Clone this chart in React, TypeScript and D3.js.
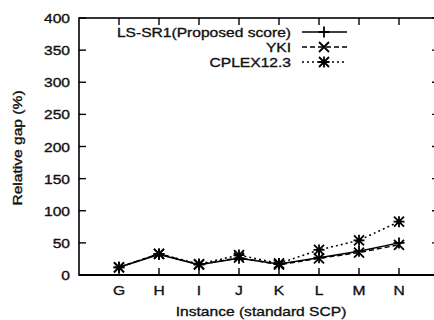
import React from 'react'
import * as d3 from 'd3'

const categories = ['G', 'H', 'I', 'J', 'K', 'L', 'M', 'N']
const lsSr1 = [12, 32, 16, 26, 17, 27, 37, 50]
const yki = [12, 33, 16, 27, 16, 26, 35, 47]
const cplex = [12, 33, 17, 31, 18, 39, 54, 83]
const yTicks = [0, 50, 100, 150, 200, 250, 300, 350, 400]

const seriesList = [
    { name: 'LS-SR1(Proposed score)', values: lsSr1, dash: 'none', marker: 'plus' },
    { name: 'YKI', values: yki, dash: '5,3', marker: 'cross' },
    { name: 'CPLEX12.3', values: cplex, dash: '2,3', marker: 'star' },
]

const W = 434
const H = 320
const left = 79
const right = 439
const top = 18
const bottom = 275
const font = '"Liberation Sans", Arial, Helvetica, sans-serif'
const sx = 1.2 // scanned text is wider than plain Arial

function Marker({ type, x, y }: { type: string; x: number; y: number }) {
    const p = 5.5
    const c = 5
    const plus = `M${x - p},${y}H${x + p}M${x},${y - p}V${y + p}`
    const cross = `M${x - c},${y - c}L${x + c},${y + c}M${x - c},${y + c}L${x + c},${y - c}`
    const d = type === 'plus' ? plus : type === 'cross' ? cross : plus + cross
    return <path d={d} stroke="#000" strokeWidth={1.8} fill="none" />
}

function Label({ x, y, anchor, children, rotate = 0 }: any) {
    return (
        <text
            transform={`translate(${x},${y}) rotate(${rotate}) scale(${sx},1)`}
            textAnchor={anchor}
            fontFamily={font}
            fontSize={13}
            fill="#111"
            stroke="#111"
            strokeWidth={0.35}
        >
            {children}
        </text>
    )
}

export default function App() {
    const x = d3.scalePoint().domain(categories).range([left, right]).padding(1)
    const y = d3.scaleLinear().domain([0, 400]).range([bottom, top])
    const line = d3
        .line<number>()
        .x((_, i) => x(categories[i]) as number)
        .y((d) => y(d))

    return (
        <svg
            width={W}
            height={H}
            style={{ position: 'absolute', left: 0, top: 0, background: '#fff' }}
        >
            {/* frame */}
            <rect x={left} y={top} width={right - left} height={bottom - top} fill="none" stroke="#000" strokeWidth={1.6} />
            <line x1={left} x2={right} y1={bottom} y2={bottom} stroke="#000" strokeWidth={2.2} />

            {/* y ticks, both sides */}
            {yTicks.map((t) => (
                <g key={t}>
                    <line x1={left} x2={left + 7} y1={y(t)} y2={y(t)} stroke="#000" strokeWidth={1.4} />
                    <line x1={right} x2={right - 7} y1={y(t)} y2={y(t)} stroke="#000" strokeWidth={1.4} />
                    <Label x={70} y={y(t) + 5} anchor="end">{t}</Label>
                </g>
            ))}

            {/* x ticks, top and bottom */}
            {categories.map((c) => (
                <g key={c}>
                    <line x1={x(c)} x2={x(c)} y1={bottom} y2={bottom - 7} stroke="#000" strokeWidth={1.4} />
                    <line x1={x(c)} x2={x(c)} y1={top} y2={top + 7} stroke="#000" strokeWidth={1.4} />
                    <Label x={x(c)} y={295} anchor="middle">{c}</Label>
                </g>
            ))}

            <Label x={261} y={316} anchor="middle">Instance (standard SCP)</Label>
            <Label x={22} y={148} anchor="middle" rotate={-90}>Relative gap (%)</Label>

            {/* series */}
            {seriesList.map((s) => (
                <g key={s.name}>
                    <path d={line(s.values) || ''} fill="none" stroke="#000" strokeWidth={1.5} strokeDasharray={s.dash} />
                    {s.values.map((v, i) => (
                        <Marker key={i} type={s.marker} x={x(categories[i]) as number} y={y(v)} />
                    ))}
                </g>
            ))}

            {/* legend */}
            {seriesList.map((s, i) => {
                const ly = 32 + i * 15
                return (
                    <g key={s.name}>
                        <Label x={291} y={ly + 5} anchor="end">{s.name}</Label>
                        <line x1={302} x2={347} y1={ly} y2={ly} stroke="#000" strokeWidth={1.5} strokeDasharray={s.dash} />
                        <Marker type={s.marker} x={324} y={ly} />
                    </g>
                )
            })}
        </svg>
    )
}
